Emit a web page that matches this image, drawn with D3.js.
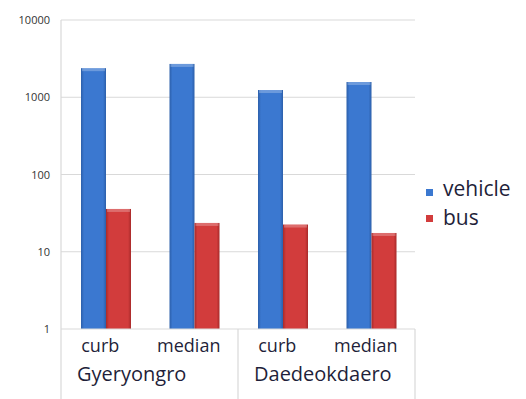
<!DOCTYPE html>
<html>
<head>
<meta charset="utf-8">
<script src="https://cdn.jsdelivr.net/npm/d3@7"></script>
<style>
  body { margin: 0; background: #fff; }
  svg { display: block; font-family: "Open Sans", "Noto Sans", sans-serif; }
</style>
</head>
<body>
<div id="chart"></div>
<script>
const roads = ['Gyeryongro', 'Daedeokdaero'];
const positions = ['curb', 'median', 'curb', 'median'];
const roadStart = [0, 2];
const seriesNames = ['vehicle', 'bus'];
const vehicleValues = [2380, 2700, 1240, 1575];
const busValues = [35.8, 23.6, 22.5, 17.5];
const yTicks = [1, 10, 100, 1000, 10000];
const seriesColors = ['#3b78d0', '#d23c3c'];
const seriesDark = ['#2c5faa', '#a82a2a'];

const width = 526;
const height = 399;
const margin = { top: 20, right: 111, bottom: 70, left: 61 };

const svg = d3.select('#chart').append('svg')
    .attr('width', width)
    .attr('height', height);

const defs = svg.append('defs');
seriesNames.forEach((s, i) => {
    const g = defs.append('linearGradient').attr('id', 'grad-' + s)
        .attr('x1', '0%').attr('x2', '100%').attr('y1', '0%').attr('y2', '0%');
    g.append('stop').attr('offset', '0%').attr('stop-color', seriesDark[i]);
    g.append('stop').attr('offset', '12%').attr('stop-color', seriesColors[i]);
    g.append('stop').attr('offset', '88%').attr('stop-color', seriesColors[i]);
    g.append('stop').attr('offset', '100%').attr('stop-color', seriesDark[i]);
});

const cats = positions.map((p, i) => i);
const x0 = d3.scaleBand().domain(cats).range([margin.left, width - margin.right]);
const bw = x0.bandwidth();
const x1 = d3.scaleBand().domain(seriesNames).range([bw * 20 / 88.5, bw * 70 / 88.5]);
const y = d3.scaleLog().domain([1, 10000]).range([height - margin.bottom, margin.top]);

// gridlines
svg.append('g').selectAll('line')
    .data(yTicks.slice(1))
    .enter().append('line')
    .attr('x1', margin.left)
    .attr('x2', width - margin.right)
    .attr('y1', d => y(d))
    .attr('y2', d => y(d))
    .attr('stroke', '#d9d9d9')
    .attr('stroke-width', 1.2);

// y tick labels
svg.append('g').selectAll('text')
    .data(yTicks)
    .enter().append('text')
    .attr('x', 50)
    .attr('y', d => y(d) + 4)
    .attr('text-anchor', 'end')
    .attr('fill', '#333')
    .style('font-size', '11px')
    .text(d => d);

// bars
const data = cats.map(i => ({ i, vehicle: vehicleValues[i], bus: busValues[i] }));
const groups = svg.append('g').selectAll('g')
    .data(data)
    .enter().append('g')
    .attr('transform', d => `translate(${x0(d.i)},0)`);

groups.selectAll('rect.bar')
    .data(d => seriesNames.map(s => ({ s, v: d[s] })))
    .enter().append('rect')
    .attr('class', 'bar')
    .attr('x', d => x1(d.s))
    .attr('width', x1.bandwidth())
    .attr('y', d => y(d.v))
    .attr('height', d => y(1) - y(d.v))
    .attr('fill', d => `url(#grad-${d.s})`);

groups.selectAll('rect.cap')
    .data(d => seriesNames.map(s => ({ s, v: d[s] })))
    .enter().append('rect')
    .attr('class', 'cap')
    .attr('x', d => x1(d.s) + 1)
    .attr('width', x1.bandwidth() - 2)
    .attr('y', d => y(d.v))
    .attr('height', 3)
    .attr('fill', '#ffffff')
    .attr('opacity', 0.25);

// axis frame
const axisY = y(1);
svg.append('line')
    .attr('x1', margin.left).attr('x2', margin.left)
    .attr('y1', margin.top).attr('y2', height)
    .attr('stroke', '#d9d9d9').attr('stroke-width', 1.2);
svg.append('line')
    .attr('x1', margin.left).attr('x2', width - margin.right)
    .attr('y1', axisY).attr('y2', axisY)
    .attr('stroke', '#d9d9d9').attr('stroke-width', 1.2);
const seps = [x0(2), width - margin.right];
svg.append('g').selectAll('line')
    .data(seps)
    .enter().append('line')
    .attr('x1', d => d).attr('x2', d => d)
    .attr('y1', axisY).attr('y2', height)
    .attr('stroke', '#d9d9d9').attr('stroke-width', 1.2);

// category labels
svg.append('g').selectAll('text')
    .data(positions)
    .enter().append('text')
    .attr('x', (d, i) => x0(i) + bw / 2 - 5)
    .attr('y', axisY + 23)
    .attr('text-anchor', 'middle')
    .attr('fill', '#1f1f3a')
    .style('font-size', '18px')
    .text(d => d);

svg.append('g').selectAll('text')
    .data(roads)
    .enter().append('text')
    .attr('x', (d, i) => x0(roadStart[i]) + 16)
    .attr('y', axisY + 52)
    .attr('fill', '#1f1f3a')
    .style('font-size', '20px')
    .text(d => d);

// legend
const legend = svg.append('g').attr('transform', 'translate(426,0)');
seriesNames.forEach((s, i) => {
    legend.append('rect')
        .attr('x', 0)
        .attr('y', 189 + i * 26)
        .attr('width', 7)
        .attr('height', 7)
        .attr('fill', seriesColors[i]);
    legend.append('text')
        .attr('x', 17)
        .attr('y', 196 + i * 29)
        .attr('fill', '#1f1f3a')
        .style('font-size', '21px')
        .text(s);
});
</script>
</body>
</html>
